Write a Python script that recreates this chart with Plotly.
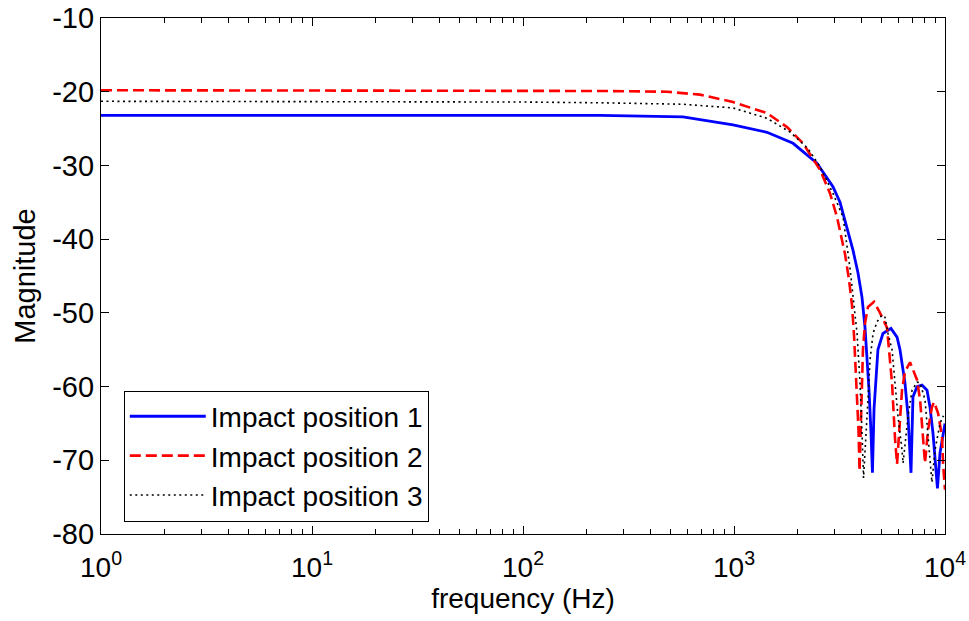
import plotly.graph_objects as go

# ---- data ----
freq_pos1 = [1, 10, 100, 232, 573, 989, 1433, 1905, 2472, 2945, 3180, 3434, 3664, 3870, 4043,
             4178, 4265, 4365, 4460, 4530, 4610, 4690, 4810, 5080, 5545, 5925, 6120, 6460,
             6680, 6900, 7050, 7370, 7780, 8220, 8490, 8770, 9020, 9210, 9470, 9790, 10000]
mag_pos1 = [-23.2, -23.2, -23.2, -23.2, -23.4, -24.5, -25.5, -27.0, -29.7, -32.9, -35.0,
            -38.4, -41.5, -44.6, -47.9, -52.0, -56.0, -60.5, -66.3, -71.7, -63.0, -59.0,
            -55.0, -52.8, -52.1, -53.3, -55.0, -59.5, -64.0, -71.7, -61.4, -60.0, -59.8,
            -60.5, -62.8, -66.3, -70.4, -73.8, -69.0, -66.5, -65.0]

freq_pos2 = [1, 10, 100, 232, 481, 690, 989, 1433, 1784, 2123, 2560, 2852, 3077, 3250, 3357,
             3508, 3625, 3705, 3767, 3830, 3893, 3935, 4085, 4178, 4315, 4610, 4920, 5310,
             5485, 5610, 5795, 5925, 6255, 6460, 6830, 7050, 7370, 7620, 7780, 8040, 8300,
             8670, 8870, 9270, 9680, 9790, 10000]
mag_pos2 = [-19.8, -19.8, -19.8, -19.9, -20.0, -20.4, -21.4, -22.9, -24.8, -27.0, -30.6,
            -33.8, -37.0, -40.1, -42.0, -45.5, -49.0, -53.0, -57.5, -62.0, -66.0, -71.5,
            -55.0, -51.4, -49.2, -48.5, -50.0, -52.0, -56.4, -59.5, -67.0, -70.5, -60.5,
            -58.0, -56.7, -57.8, -59.1, -61.8, -65.5, -70.4, -66.0, -62.8, -62.1, -63.6,
            -66.8, -70.4, -74.0]

freq_pos3 = [1, 10, 100, 232, 573, 989, 1433, 1850, 2240, 2560, 2945, 3288, 3548, 3830, 3956,
             4043, 4110, 4315, 4412, 4560, 4765, 5025, 5197, 5370, 5610, 5795, 5986, 6255,
             6328, 6680, 6980, 7370, 7620, 8040, 8300, 8490, 8670, 8970, 9470, 9790, 10000]
mag_pos3 = [-21.3, -21.3, -21.4, -21.5, -21.7, -22.2, -23.6, -25.5, -27.7, -30.2, -33.8,
            -37.0, -44.0, -52.8, -59.5, -66.3, -72.4, -61.8, -56.4, -52.8, -51.2, -50.3,
            -50.6, -52.8, -55.0, -59.5, -64.0, -68.6, -70.4, -64.0, -60.5, -59.4, -59.5,
            -61.8, -66.3, -70.4, -73.0, -68.6, -65.0, -64.0, -64.5]

series_names = ["Impact position 1", "Impact position 2", "Impact position 3"]
x_tickvals = [1, 10, 100, 1000, 10000]
x_ticktext = ["10<sup>0</sup>", "10<sup>1</sup>", "10<sup>2</sup>", "10<sup>3</sup>", "10<sup>4</sup>"]
y_tickvals = [-80, -70, -60, -50, -40, -30, -20, -10]
y_ticktext = ["-80", "-70", "-60", "-50", "-40", "-30", "-20", "-10"]
minor_vals = [m * 10 ** d for d in range(4) for m in range(2, 10)]

fig = go.Figure()
fig.add_trace(go.Scatter(x=freq_pos1, y=mag_pos1, mode="lines", name=series_names[0],
                         line=dict(color="#0000ff", width=2.8)))
fig.add_trace(go.Scatter(x=freq_pos2, y=mag_pos2, mode="lines", name=series_names[1],
                         line=dict(color="#ff0000", width=2.6, dash="11px,5px")))
fig.add_trace(go.Scatter(x=freq_pos3, y=mag_pos3, mode="lines", name=series_names[2],
                         line=dict(color="#000000", width=1.6, dash="2px,3.5px")))

font_family = "Liberation Sans, Arial, sans-serif"
fig.update_layout(
    width=969, height=621,
    margin=dict(l=101, r=24, t=18, b=87),
    paper_bgcolor="white", plot_bgcolor="white",
    font=dict(family=font_family, size=29, color="black"),
    showlegend=True,
    legend=dict(x=0.027, y=0.278, xanchor="left", yanchor="top",
                bordercolor="black", borderwidth=1, bgcolor="white",
                font=dict(size=28), itemwidth=76, tracegroupgap=0),
    xaxis=dict(type="log", range=[0, 4], tickvals=x_tickvals, ticktext=x_ticktext,
               ticks="inside", ticklen=8, tickcolor="black", showline=True,
               linecolor="black", linewidth=1.2, mirror="ticks", showgrid=False,
               zeroline=False, automargin=False, ticklabelstandoff=8,
               minor=dict(tickvals=minor_vals, ticks="inside", ticklen=5, tickcolor="black"),
               title=dict(text="frequency (Hz)", font=dict(size=28), standoff=6),
               tickfont=dict(size=28)),
    yaxis=dict(range=[-80, -10], tickvals=y_tickvals, ticktext=y_ticktext,
               ticks="inside", ticklen=8,
               tickcolor="black", showline=True, linecolor="black", linewidth=1.2,
               mirror="ticks", showgrid=False, zeroline=False, automargin=False,
               title=dict(text="Magnitude", font=dict(size=29), standoff=8),
               tickfont=dict(size=29)),
)

fig.write_html("out.html")
